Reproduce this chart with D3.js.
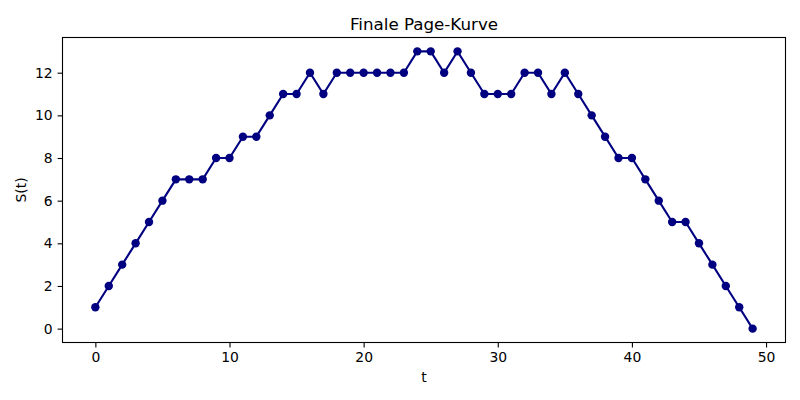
<!DOCTYPE html>
<html>
<head>
<meta charset="utf-8">
<script src="https://cdn.jsdelivr.net/npm/d3@7"></script>
<style>
  body { margin: 0; background: #fff; }
  svg text { font-family: "DejaVu Sans", sans-serif; }
</style>
</head>
<body>
<div id="chart"></div>
<script>
// Werte
const tValues = d3.range(0, 50);
const sValues = [
  1, 2, 3, 4, 5, 6, 7, 7, 7, 8,
  8, 9, 9, 10, 11, 11, 12, 11, 12, 12,
  12, 12, 12, 12, 13, 13, 12, 13, 12, 11,
  11, 11, 12, 12, 11, 12, 11, 10, 9, 8,
  8, 7, 6, 5, 5, 4, 3, 2, 1, 0
];
const xTicks = [0, 10, 20, 30, 40, 50];
const yTicks = [0, 2, 4, 6, 8, 10, 12];

const width = 800, height = 400;
const margin = { top: 37.5, right: 14.5, bottom: 57.5, left: 62.5 };

const data = tValues.map((t, i) => ({ t, s: sValues[i] }));

const svg = d3.select("#chart").append("svg")
  .attr("width", width)
  .attr("height", height);

// matplotlib-artige 5% Ränder
const xPad = (d3.max(tValues) - d3.min(tValues)) * 0.05;
const yPad = (d3.max(sValues) - d3.min(sValues)) * 0.05;

const xScale = d3.scaleLinear()
  .domain([d3.min(tValues) - xPad, d3.max(tValues) + xPad])
  .range([margin.left, width - margin.right]);

const yScale = d3.scaleLinear()
  .domain([d3.min(sValues) - yPad, d3.max(sValues) + yPad])
  .range([height - margin.bottom, margin.top]);

const xAxis = d3.axisBottom(xScale)
  .tickValues(xTicks)
  .tickSize(4.9)
  .tickPadding(4.9)
  .tickSizeOuter(0);

const yAxis = d3.axisLeft(yScale)
  .tickValues(yTicks)
  .tickSize(4.9)
  .tickPadding(4.9)
  .tickSizeOuter(0);

const gx = svg.append("g")
  .attr("transform", `translate(0,${height - margin.bottom})`)
  .call(xAxis);

const gy = svg.append("g")
  .attr("transform", `translate(${margin.left},0)`)
  .call(yAxis);

[gx, gy].forEach(g => {
  g.select(".domain").remove();
  g.selectAll("text").attr("font-size", 13.9).attr("fill", "#000");
  g.selectAll("line").attr("stroke", "#000").attr("stroke-width", 1.1);
});

// Linie und Punkte
const line = d3.line()
  .x(d => xScale(d.t))
  .y(d => yScale(d.s));

svg.append("path")
  .datum(data)
  .attr("fill", "none")
  .attr("stroke", "navy")
  .attr("stroke-width", 2.1)
  .attr("d", line);

svg.selectAll("circle.pt")
  .data(data)
  .enter()
  .append("circle")
  .attr("class", "pt")
  .attr("cx", d => xScale(d.t))
  .attr("cy", d => yScale(d.s))
  .attr("r", 4.2)
  .attr("fill", "navy");

// Rahmen
svg.append("rect")
  .attr("x", margin.left)
  .attr("y", margin.top)
  .attr("width", width - margin.left - margin.right)
  .attr("height", height - margin.top - margin.bottom)
  .attr("fill", "none")
  .attr("stroke", "#000")
  .attr("stroke-width", 1.1);

// Beschriftungen
svg.append("text")
  .attr("x", (margin.left + width - margin.right) / 2)
  .attr("y", margin.top - 8)
  .attr("text-anchor", "middle")
  .attr("font-size", 16.7)
  .text("Finale Page-Kurve");

svg.append("text")
  .attr("x", (margin.left + width - margin.right) / 2)
  .attr("y", 382)
  .attr("text-anchor", "middle")
  .attr("font-size", 13.9)
  .text("t");

svg.append("text")
  .attr("transform", `translate(26,${(margin.top + height - margin.bottom) / 2}) rotate(-90)`)
  .attr("text-anchor", "middle")
  .attr("font-size", 13.9)
  .text("S(t)");
</script>
</body>
</html>
